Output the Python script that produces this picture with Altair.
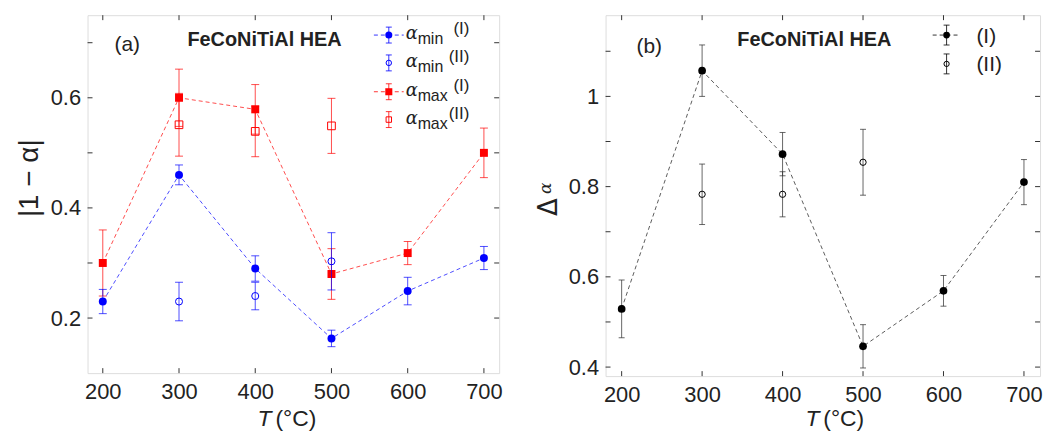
import altair as alt
import pandas as pd

# ---------------- data ----------------
T = [200, 300, 400, 500, 600, 700]
T_II = [300, 400, 500]

amin_I = [0.230, 0.460, 0.290, 0.163, 0.249, 0.309]
amin_I_err = [0.022, 0.018, 0.023, 0.015, 0.025, 0.021]
amin_II = [0.230, 0.240, 0.303]
amin_II_err = [0.035, 0.025, 0.052]
amax_I = [0.300, 0.600, 0.579, 0.280, 0.318, 0.500]
amax_I_err = [0.060, 0.052, 0.045, 0.046, 0.021, 0.045]
amax_II = [0.551, 0.539, 0.549]
amax_II_err = [0.057, 0.046, 0.050]

dI = [0.529, 1.057, 0.872, 0.446, 0.569, 0.810]
dI_err = [0.064, 0.057, 0.048, 0.048, 0.034, 0.050]
dII = [0.783, 0.783, 0.854]
dII_err = [0.067, 0.050, 0.073]

x_labels = [200, 300, 400, 500, 600, 700]
ya_labels = [0.2, 0.4, 0.6]
ya_ticks = [0.2, 0.3, 0.4, 0.5, 0.6, 0.7]
yb_labels = [0.4, 0.6, 0.8, 1.0]
yb_ticks = [0.4, 0.5, 0.6, 0.7, 0.8, 0.9, 1.0, 1.1]

title_text = "FeCoNiTiAl HEA"

# ---------------- styling ----------------
FONT = "Liberation Sans"
TXT = "#222222"
BLUE = "#0000ff"
RED = "#ff0000"
BLACK = "#000000"

WA, HA = 414, 360
WB, HB = 437, 363


def make_enc(xdom, ydom, yvals, yfmt):
    xs = alt.Scale(domain=xdom, nice=False, zero=False)
    ys = alt.Scale(domain=ydom, nice=False, zero=False)
    xaxis = alt.Axis(values=x_labels, ticks=False, tickSize=0, domain=False, grid=False,
                     title=None, labelPadding=9, labelFontSize=22, labelFont=FONT,
                     labelColor=TXT)
    yaxis = alt.Axis(values=yvals, format=yfmt, ticks=False, tickSize=0, domain=False,
                     grid=False, title=None, labelPadding=7, labelFontSize=22,
                     labelFont=FONT, labelColor=TXT)

    def X(f):
        return alt.X(f, type="quantitative", scale=xs, axis=xaxis)

    def Y(f):
        return alt.Y(f, type="quantitative", scale=ys, axis=yaxis)

    def Y2(f):
        return alt.Y2(f)

    return X, Y, Y2


def series(X, Y, Y2, xs, vals, errs, color, shape, filled, size, cap, line, eop, lop,
           ecolor=None, lcolor=None):
    df = pd.DataFrame({"T": xs, "v": vals,
                       "lo": [v - e for v, e in zip(vals, errs)],
                       "hi": [v + e for v, e in zip(vals, errs)]})
    base = alt.Chart(df)
    ec = ecolor or color
    lc = lcolor or color
    layers = []
    if line:
        layers.append(base.mark_line(color=lc, strokeWidth=1, strokeDash=[4, 3],
                                     opacity=lop).encode(x=X("T"), y=Y("v")))
    layers.append(base.mark_rule(color=ec, strokeWidth=1, opacity=eop).encode(
        x=X("T"), y=Y("lo"), y2=Y2("hi")))
    for f in ["lo", "hi"]:
        layers.append(base.mark_rule(color=ec, strokeWidth=1, opacity=eop,
                                     xOffset=-cap, x2Offset=cap).encode(
            x=X("T"), x2=alt.X2("T"), y=Y(f)))
    if filled:
        layers.append(base.mark_point(shape=shape, filled=True, color=color, size=size,
                                      opacity=1).encode(x=X("T"), y=Y("v")))
    else:
        layers.append(base.mark_point(shape=shape, filled=False, color=color, size=size,
                                      strokeWidth=1, opacity=1).encode(x=X("T"), y=Y("v")))
    return layers


def frame_ticks(X, Y, W, H, yt):
    dx = alt.Chart(pd.DataFrame({"T": x_labels}))
    dy = alt.Chart(pd.DataFrame({"v": yt}))
    c = "#333333"
    return [
        dx.mark_rule(color=c, strokeWidth=1).encode(x=X("T"), y=alt.value(H), y2=alt.value(H - 5)),
        dx.mark_rule(color=c, strokeWidth=1).encode(x=X("T"), y=alt.value(0), y2=alt.value(5)),
        dy.mark_rule(color=c, strokeWidth=1).encode(y=Y("v"), x=alt.value(0), x2=alt.value(5)),
        dy.mark_rule(color=c, strokeWidth=1).encode(y=Y("v"), x=alt.value(W - 5), x2=alt.value(W)),
    ]


ONE = alt.Data(values=[{"k": 1}])


def txt(x, y, s, size, font=FONT, align="center", color=TXT, **kw):
    return alt.Chart(ONE).mark_text(text=s, fontSize=size, font=font, align=align,
                                    baseline="middle", color=color, **kw).encode(
        x=alt.value(x), y=alt.value(y))


def glyph(cx, cy, color, shape, filled, size, dashed, err, cap, half, eop):
    layers = []
    if dashed:
        layers.append(alt.Chart(ONE).mark_rule(color=color, strokeWidth=1, strokeDash=[4, 3],
                                               opacity=0.8).encode(
            x=alt.value(cx - half), x2=alt.value(cx + half), y=alt.value(cy)))
    layers.append(alt.Chart(ONE).mark_rule(color=color, strokeWidth=1, opacity=eop).encode(
        x=alt.value(cx), y=alt.value(cy - err), y2=alt.value(cy + err)))
    for d in (-err, err):
        layers.append(alt.Chart(ONE).mark_rule(color=color, strokeWidth=1, opacity=eop).encode(
            x=alt.value(cx - cap), x2=alt.value(cx + cap), y=alt.value(cy + d)))
    if filled:
        layers.append(alt.Chart(ONE).mark_point(shape=shape, filled=True, color=color,
                                                size=size, opacity=1).encode(
            x=alt.value(cx), y=alt.value(cy)))
    else:
        layers.append(alt.Chart(ONE).mark_point(shape=shape, filled=False, color=color,
                                                size=size, strokeWidth=1, opacity=1).encode(
            x=alt.value(cx), y=alt.value(cy)))
    return layers


# ---------------- panel (a) ----------------
Xa, Ya, Y2a = make_enc([180, 720], [0.1, 0.75], ya_labels, ".1~f")
la = []
la += frame_ticks(Xa, Ya, WA, HA, ya_ticks)
la += series(Xa, Ya, Y2a, T, amax_I, amax_I_err, RED, "square", True, 64, 4, True, 0.7, 0.7)
la += series(Xa, Ya, Y2a, T_II, amax_II, amax_II_err, RED, "square", False, 60, 4, False, 0.7, 0.7)
la += series(Xa, Ya, Y2a, T, amin_I, amin_I_err, BLUE, "circle", True, 64, 4, True, 0.7, 0.7)
la += series(Xa, Ya, Y2a, T_II, amin_II, amin_II_err, BLUE, "circle", False, 50, 4, False, 0.7, 0.7)

# legend (a)
rows = [20, 48, 77, 105]
specs = [(BLUE, "circle", True, 50, True, "min", "(I)"),
         (BLUE, "circle", False, 30, False, "min", "(II)"),
         (RED, "square", True, 50, True, "max", "(I)"),
         (RED, "square", False, 30, False, "max", "(II)")]
for ry, (c, sh, fi, sz, da, sub, tag) in zip(rows, specs):
    la += glyph(303, ry, c, sh, fi, sz, da, 8, 3, 15, 0.8)
    la.append(txt(320, ry - 1, "α", 18, font="DejaVu Serif", align="left", fontStyle="italic"))
    la.append(txt(332, ry + 4, sub, 16, align="left"))
    la.append(txt(384, ry - 6, tag, 17, align="right"))

la.append(txt(40, 30, "(a)", 21))
la.append(txt(178, 25, title_text, 20, fontWeight="bold"))
la.append(txt(-58, 164, "|1 − α|", 28, angle=270))
la.append(txt(171, HA + 46, "T", 23, align="left", fontStyle="italic"))
la.append(txt(189, HA + 46, "(°C)", 23, align="left"))

panel_a = alt.layer(*la).properties(width=WA, height=HA)

# ---------------- panel (b) ----------------
Xb, Yb, Y2b = make_enc([180, 720], [0.38, 1.18], yb_labels, ".1~f")
lb = []
lb += frame_ticks(Xb, Yb, WB, HB, yb_ticks)
lb += series(Xb, Yb, Y2b, T, dI, dI_err, BLACK, "circle", True, 60, 3, True, 0.75, 0.8,
             ecolor="#333333", lcolor="#333333")
lb += series(Xb, Yb, Y2b, T_II, dII, dII_err, BLACK, "circle", False, 40, 3, False, 0.75, 0.8,
             ecolor="#333333")

lb += glyph(343, 20, BLACK, "circle", True, 45, True, 10, 3, 14, 0.8)
lb += glyph(343, 49, BLACK, "circle", False, 28, False, 10, 3, 14, 0.8)
lb.append(txt(373, 22, "(I)", 21, align="left"))
lb.append(txt(373, 50, "(II)", 21, align="left"))

lb.append(txt(44, 32, "(b)", 21))
lb.append(txt(210, 25, title_text, 20, fontWeight="bold"))
lb.append(txt(-57, 193, "Δ", 26, font="DejaVu Sans", fontWeight="normal", angle=270))
lb.append(txt(-60, 174, "α", 17, font="DejaVu Serif", fontStyle="italic", angle=270))
lb.append(txt(201, HB + 43, "T", 23, align="left", fontStyle="italic"))
lb.append(txt(219, HB + 43, "(°C)", 23, align="left"))

panel_b = alt.layer(*lb).properties(width=WB, height=HB)

chart = alt.hconcat(panel_a, panel_b, spacing=32).properties(
    padding={"left": 7, "top": 5, "right": 5, "bottom": 0}
).configure_view(
    fill="#f6f0ed", stroke="#333333", strokeWidth=1.5
).configure(background="white")

chart.save("out.html", embed_options={"renderer": "svg", "actions": False})
